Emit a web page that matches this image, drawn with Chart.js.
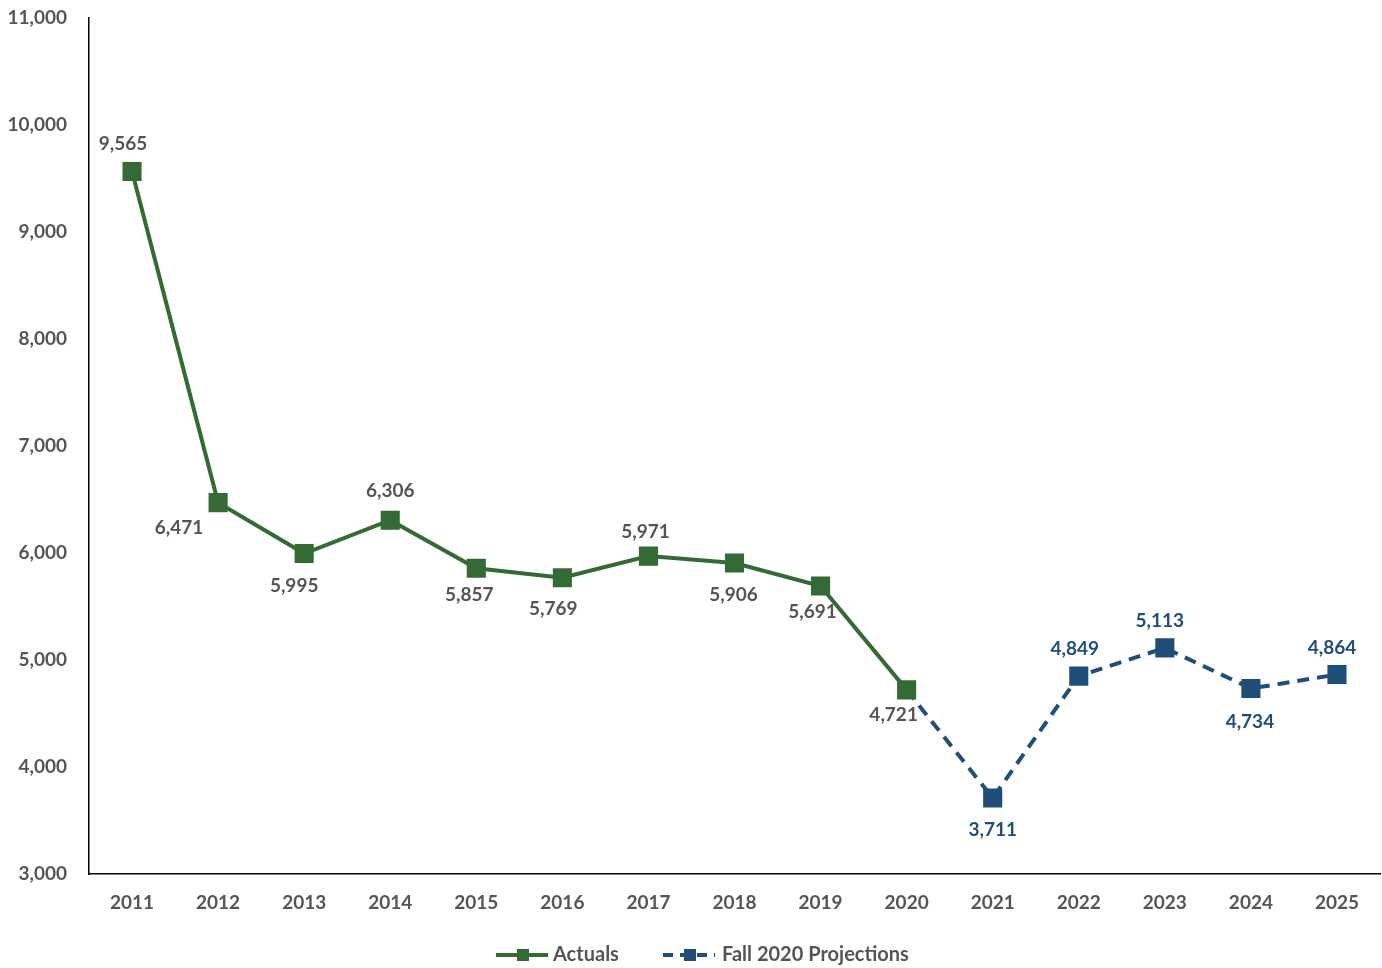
<!DOCTYPE html>
<html>
<head>
<meta charset="utf-8">
<script src="https://cdn.jsdelivr.net/npm/chart.js@4"></script>
<style>
  html, body { margin: 0; padding: 0; background: #fff; overflow: hidden; }
  #wrap { width: 1382px; height: 968px; }
</style>
</head>
<body>
<div id="wrap"><canvas id="grafico"></canvas></div>
<script>
// Dados do gráfico
const anos = ['2011','2012','2013','2014','2015','2016','2017','2018','2019','2020','2021','2022','2023','2024','2025'];
const actuals = [9565, 6471, 5995, 6306, 5857, 5769, 5971, 5906, 5691, 4721, null, null, null, null, null];
const projecoes = [null, null, null, null, null, null, null, null, null, 4721, 3711, 4849, 5113, 4734, 4864];
const yTicks = [3000, 4000, 5000, 6000, 7000, 8000, 9000, 10000, 11000];

// Deslocamento dos rótulos (dx, dy) em relação ao ponto
const rotuloDx = [-9, -39, -10, 0, -7, -9, -3, -1, -8, -13, 0, -4, -5, -1, -5];
const rotuloDy = [-28, 25, 32, -29, 27, 31, -24, 32, 26, 25, 32, -27, -27, 33, -27];

const verde = '#346B34';
const azul = '#1F4E79';
const cinza = '#555555';
const fonte = "Lato, 'Open Sans', sans-serif";

const fmt = v => v.toLocaleString('en-US');

// Plugin: rótulos de dados + legenda desenhada no canvas
const rotulos = {
  id: 'rotulos',
  afterDatasetsDraw(chart) {
    const ctx = chart.ctx;
    ctx.save();
    ctx.font = `bold 19px ${fonte}`;
    ctx.textAlign = 'center';
    ctx.textBaseline = 'middle';
    const m0 = chart.getDatasetMeta(0);
    const m1 = chart.getDatasetMeta(1);
    anos.forEach((_, i) => {
      let pt, val, cor;
      if (actuals[i] != null) { pt = m0.data[i]; val = actuals[i]; cor = cinza; }
      else if (projecoes[i] != null) { pt = m1.data[i]; val = projecoes[i]; cor = azul; }
      else return;
      ctx.fillStyle = cor;
      ctx.fillText(fmt(val), pt.x + rotuloDx[i], pt.y + rotuloDy[i]);
    });

    // Legenda
    const ly = 955;
    ctx.font = `bold 20px ${fonte}`;
    const itens = [
      { x: 496, cor: verde, dash: [], texto: 'Actuals' },
      { x: 663, cor: azul, dash: [10, 7], texto: 'Fall 2020 Projections' }
    ];
    itens.forEach(it => {
      ctx.strokeStyle = it.cor;
      ctx.lineWidth = 4;
      ctx.setLineDash(it.dash);
      ctx.beginPath();
      ctx.moveTo(it.x, ly);
      ctx.lineTo(it.x + 52, ly);
      ctx.stroke();
      ctx.setLineDash([]);
      ctx.fillStyle = it.cor;
      ctx.fillRect(it.x + 21, ly - 6, 12, 12);
      ctx.fillStyle = cinza;
      ctx.textAlign = 'left';
      ctx.fillText(it.texto, it.x + 57 + (it.dash.length ? 2 : 0), ly);
    });
    ctx.restore();
  }
};

new Chart(document.getElementById('grafico'), {
  type: 'line',
  data: {
    labels: anos,
    datasets: [
      {
        label: 'Actuals',
        data: actuals,
        borderColor: verde,
        backgroundColor: verde,
        borderWidth: 4,
        pointStyle: 'rect',
        pointRadius: 13.5,
        pointHoverRadius: 13.5,
        pointBackgroundColor: verde,
        pointBorderWidth: 0,
        tension: 0,
        spanGaps: false,
        order: 0
      },
      {
        label: 'Fall 2020 Projections',
        data: projecoes,
        borderColor: azul,
        backgroundColor: azul,
        borderWidth: 4,
        borderDash: [12, 8],
        pointStyle: 'rect',
        pointRadius: projecoes.map((v, i) => (actuals[i] != null ? 0 : 13.5)),
        pointHoverRadius: 13.5,
        pointBackgroundColor: azul,
        pointBorderWidth: 0,
        tension: 0,
        order: 1
      }
    ]
  },
  options: {
    responsive: true,
    maintainAspectRatio: false,
    animation: false,
    layout: { autoPadding: false, padding: { top: 18, right: 2, bottom: 38, left: 0 } },
    plugins: {
      legend: { display: false },
      tooltip: { enabled: false }
    },
    scales: {
      x: {
        offset: true,
        grid: { display: false },
        border: { display: true, color: '#000', width: 1.5 },
        ticks: {
          color: cinza,
          font: { family: fonte, size: 19, weight: 'bold' },
          padding: 9,
          maxRotation: 0
        },
        afterFit: s => { s.height = 56; }
      },
      y: {
        min: 3000,
        max: 11000,
        afterBuildTicks: s => { s.ticks = yTicks.map(v => ({ value: v })); },
        grid: { display: false },
        border: { display: true, color: '#000', width: 1.5 },
        ticks: {
          color: cinza,
          font: { family: fonte, size: 19, weight: 'bold' },
          padding: 14,
          callback: v => fmt(v)
        },
        afterFit: s => { s.width = 89; s.paddingTop = 0; s.paddingBottom = 0; }
      }
    }
  },
  plugins: [rotulos]
});
</script>
</body>
</html>
